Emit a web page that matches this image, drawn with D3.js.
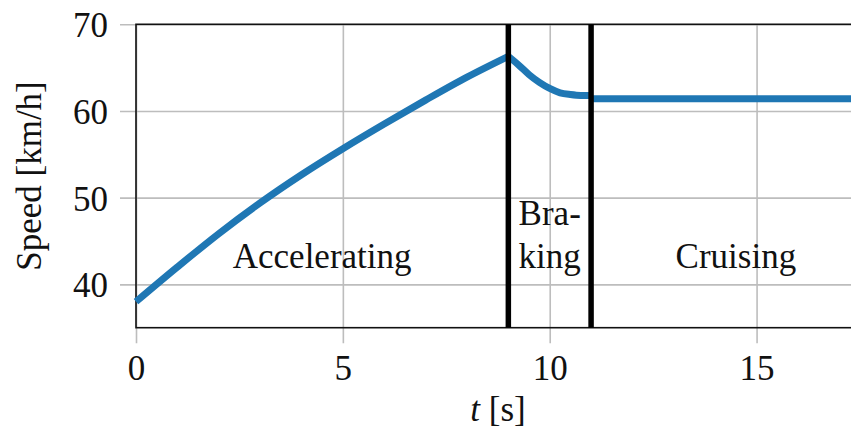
<!DOCTYPE html>
<html>
<head>
<meta charset="utf-8">
<script src="https://d3js.org/d3.v7.min.js"></script>
<style>
  body { margin: 0; overflow: hidden; background: white; }
  svg text { font-family: "Liberation Serif", "Times New Roman", Tinos, "Nimbus Roman", "DejaVu Serif", "Noto Serif", serif !important; }
</style>
</head>
<body>
<div id="chart"></div>
<script>
//Speed while accelerating (t in s, speed in km/h)
let accelT = [0, 1, 2, 3, 4, 5, 6, 7, 8, 9];
let accelV = [38.0, 42.0, 45.85, 49.4, 52.65, 55.65, 58.5, 61.25, 63.9, 66.3];

//Speed while braking
let brakeT = [9, 9.25, 9.5, 9.75, 10, 10.25, 10.5, 10.75, 11];
let brakeV = [66.3, 65.3, 64.2, 63.3, 62.6, 62.1, 61.9, 61.8, 61.8];

//Speed while cruising
let cruiseT = [11, 13, 15, 17.5];
let cruiseV = [61.4, 61.4, 61.4, 61.4];

//Phase boundaries and labels
let phaseBounds = [9, 11];
let phaseLabels = [
  {t: 4.5, lines: ["Accelerating"]},
  {t: 10, lines: ["Bra-", "king"]},
  {t: 14.5, lines: ["Cruising"]}
];

//Axis ticks
let xTicks = [0, 5, 10, 15];
let yTicks = [40, 50, 60, 70];

//SVG sizes and plot edges
let width = 851,
  height = 430;
let margin = {top: 24.3, left: 136, right: 860, bottom: 327.7};

let svg = d3.select("#chart").append("svg")
  .attr("width", width)
  .attr("height", height);

let x = d3.scaleLinear().domain([0, 17.5]).range([margin.left, margin.right]);
let y = d3.scaleLinear().domain([35, 70]).range([margin.bottom, margin.top]);

//Grid lines (they stick out past the frame as tick marks)
let xAxis = svg.append("g")
  .attr("transform", "translate(0," + (margin.bottom + 15.5) + ")")
  .call(d3.axisBottom(x).tickValues(xTicks).tickFormat(d3.format("d"))
    .tickSize(-(margin.bottom + 15.5 - margin.top)).tickPadding(12));

let yAxis = svg.append("g")
  .attr("transform", "translate(" + (margin.left - 16) + ",0)")
  .call(d3.axisLeft(y).tickValues(yTicks).tickFormat(d3.format("d"))
    .tickSize(-(margin.right - margin.left + 16)).tickPadding(12));

[xAxis, yAxis].forEach(function (a) {
  a.attr("font-family", null);
  a.select(".domain").remove();
  a.selectAll(".tick line").attr("stroke", "#bdbdbd").attr("stroke-width", 1.6);
  a.selectAll(".tick text")
    .attr("fill", "#111")
    .style("font-size", "35px");
});
yAxis.selectAll(".tick text").attr("dy", "0.36em");

//Frame
svg.append("rect")
  .attr("x", margin.left)
  .attr("y", margin.top)
  .attr("width", margin.right - margin.left)
  .attr("height", margin.bottom - margin.top)
  .attr("fill", "none")
  .attr("stroke", "#111")
  .attr("stroke-width", 1.6);

//Speed curves, one per phase
let line = d3.line()
  .x(function (d) { return x(d[0]); })
  .y(function (d) { return y(d[1]); })
  .curve(d3.curveMonotoneX);

[[accelT, accelV], [brakeT, brakeV], [cruiseT, cruiseV]].forEach(function (s) {
  svg.append("path")
    .datum(d3.zip(s[0], s[1]))
    .attr("d", line)
    .attr("fill", "none")
    .attr("stroke", "#1f77b4")
    .attr("stroke-width", 7)
    .attr("stroke-linejoin", "round");
});

//Phase boundaries
svg.selectAll(".phase-line")
  .data(phaseBounds)
  .enter().append("line")
  .attr("class", "phase-line")
  .attr("x1", function (d) { return x(d); })
  .attr("x2", function (d) { return x(d); })
  .attr("y1", margin.top)
  .attr("y2", margin.bottom)
  .attr("stroke", "black")
  .attr("stroke-width", 5.5);

//Phase labels
let labels = svg.selectAll(".phase-label")
  .data(phaseLabels)
  .enter().append("text")
  .attr("class", "phase-label")
  .attr("text-anchor", "middle")
  .style("font-size", "35px")
  .attr("fill", "#111");

labels.selectAll("tspan")
  .data(function (d) {
    return d.lines.map(function (l, i) { return {t: d.t, text: l, row: i, n: d.lines.length}; });
  })
  .enter().append("tspan")
  .attr("x", function (d) { return x(d.t); })
  .attr("y", function (d) { return 268 - (d.n - 1 - d.row) * 43; })
  .text(function (d) { return d.text; });

//Axis titles
let xTitle = svg.append("text")
  .attr("x", (margin.left + margin.right) / 2)
  .attr("y", 421)
  .attr("text-anchor", "middle")
  .style("font-size", "35px")
  .attr("fill", "#111");
xTitle.append("tspan").style("font-style", "italic").text("t");
xTitle.append("tspan").text(" [s]");

svg.append("text")
  .attr("transform", "translate(41," + ((margin.top + margin.bottom) / 2) + ") rotate(-90)")
  .attr("text-anchor", "middle")
  .style("font-size", "35px")
  .attr("fill", "#111")
  .text("Speed [km/h]");
</script>
</body>
</html>
